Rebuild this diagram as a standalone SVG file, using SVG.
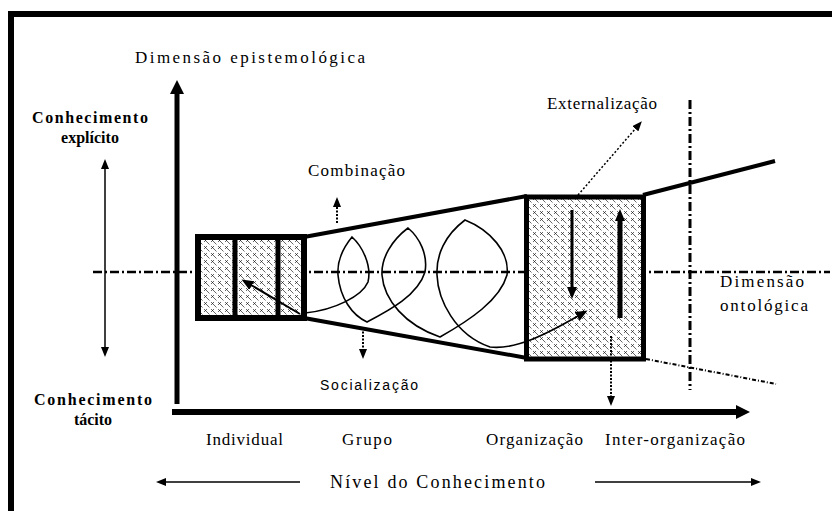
<svg xmlns="http://www.w3.org/2000/svg" width="832" height="511" viewBox="0 0 832 511">
<style>
.t{font-family:'Liberation Serif','DejaVu Serif','Times New Roman',serif;font-size:17px;fill:#000}
.b{font-weight:bold;font-size:16px}
.s{font-family:'Liberation Sans',Arial,sans-serif;font-size:14px;fill:#000}
.ln{stroke:#000;fill:none}
.dd{stroke:#000;fill:none;stroke-width:2.5;stroke-dasharray:9 3 2 3}
.dot{stroke:#000;fill:none;stroke-width:2;stroke-dasharray:2 1.5}
.box{fill:url(#hatch);stroke:#000;stroke-width:5}
</style>
<defs>
<pattern id="hatch" width="7" height="7" patternUnits="userSpaceOnUse">
<rect width="7" height="7" fill="#fff"/>
<path d="M1,1 L4,4 M4,1 L1,4 M4,4 L6.5,6.5" stroke="#000" stroke-width="0.6" fill="none"/>
</pattern>
<marker id="big" viewBox="0 0 14 14" markerWidth="14" markerHeight="14" refX="1" refY="7" orient="auto" markerUnits="userSpaceOnUse"><path d="M0,0 L14,7 L0,14 z"/></marker>
<marker id="sm" viewBox="0 0 10 8" markerWidth="10" markerHeight="8" refX="1" refY="4" orient="auto-start-reverse" markerUnits="userSpaceOnUse"><path d="M0,0 L10,4 L0,8 z"/></marker>
<marker id="md" viewBox="0 0 12 10" markerWidth="12" markerHeight="10" refX="1" refY="5" orient="auto" markerUnits="userSpaceOnUse"><path d="M0,0 L12,5 L0,10 z"/></marker>
</defs>
<rect width="832" height="511" fill="#fff"/>
<rect x="11" y="14" width="900" height="600" fill="none" stroke="#000" stroke-width="6"/>

<g id="guides">
<line class="dd" x1="93" y1="272" x2="830" y2="272"/>
<line class="dd" x1="690" y1="100" x2="690" y2="390" style="stroke-width:3"/>
</g>

<g id="left-box">
<rect class="box" x="198" y="237" width="106" height="81" style="stroke-width:6"/>
<line class="ln" x1="235" y1="237" x2="235" y2="318" stroke-width="5"/>
<line class="ln" x1="278" y1="237" x2="278" y2="318" stroke-width="5"/>
</g>

<g id="right-box">
<rect class="box" x="526.5" y="197" width="117" height="162"/>
</g>

<g id="connectors">
<line class="ln" x1="177" y1="404" x2="177" y2="93" stroke-width="5" marker-end="url(#big)"/>
<line class="ln" x1="172" y1="412" x2="737" y2="412" stroke-width="6" marker-end="url(#big)"/>
<line class="ln" x1="105" y1="168" x2="105" y2="348" stroke-width="1.5" marker-start="url(#sm)" marker-end="url(#sm)"/>
<line class="ln" x1="304" y1="237" x2="527" y2="196" stroke-width="4"/>
<line class="ln" x1="304" y1="318" x2="527" y2="358" stroke-width="4"/>
<line class="ln" x1="643" y1="195" x2="775" y2="161" stroke-width="4"/>
<line class="ln" x1="646" y1="359" x2="776" y2="384" stroke-width="2" stroke-dasharray="4 2 1 2"/>
<line class="ln" x1="300" y1="314" x2="251" y2="285" stroke-width="2" marker-end="url(#md)"/>
<path class="ln" stroke-width="1.6" d="M305,313 C335,310 362,296 368,282 C372,265 362,246 352,237 C343,248 337,262 338,275 C340,298 352,315 367,322 C390,310 418,295 425,272 C428,255 420,238 408,228 C392,240 381,258 382,275 C384,300 405,325 440,337 C470,320 500,300 507,275 C510,252 490,230 465,220 C445,235 436,255 437,275 C438,300 455,335 490,347 C515,350 545,335 578,316" marker-end="url(#md)"/>
<line class="ln" x1="572" y1="210" x2="572" y2="288" stroke-width="3" marker-end="url(#md)"/>
<line class="ln" x1="620" y1="318" x2="620" y2="220" stroke-width="5" marker-end="url(#md)"/>
<line class="dot" x1="337" y1="223" x2="337" y2="206" marker-end="url(#sm)"/>
<line class="dot" x1="363" y1="328" x2="363" y2="350" marker-end="url(#sm)"/>
<line class="dot" x1="611" y1="336" x2="611" y2="397" marker-end="url(#sm)"/>
<line class="ln" x1="578" y1="195" x2="636" y2="128" stroke-width="1.5" stroke-dasharray="2 2" marker-end="url(#sm)"/>
<line class="ln" x1="165" y1="482" x2="300" y2="482" stroke-width="1.5" marker-start="url(#sm)"/>
<line class="ln" x1="595" y1="482" x2="752" y2="482" stroke-width="1.5" marker-end="url(#sm)"/>
</g>

<g id="labels">
<text class="t" x="135" y="63" textLength="230" lengthAdjust="spacing">Dimensão epistemológica</text>
<text class="t b" x="32" y="123" textLength="116" lengthAdjust="spacing">Conhecimento</text>
<text class="t b" x="90" y="143" text-anchor="middle">explícito</text>
<text class="t b" x="34" y="405" textLength="118" lengthAdjust="spacing">Conhecimento</text>
<text class="t b" x="93" y="425" text-anchor="middle">tácito</text>
<text class="t" x="308" y="176" textLength="97" lengthAdjust="spacing">Combinação</text>
<text class="t" x="547" y="109" textLength="110" lengthAdjust="spacing">Externalização</text>
<text class="s" x="320" y="390" textLength="98" lengthAdjust="spacing">Socialização</text>
<text class="t" x="720" y="287" textLength="84" lengthAdjust="spacing">Dimensão</text>
<text class="t" x="720" y="311" textLength="88" lengthAdjust="spacing">ontológica</text>
<text class="t" x="206" y="445" textLength="77" lengthAdjust="spacing">Individual</text>
<text class="t" x="342" y="445" textLength="50" lengthAdjust="spacing">Grupo</text>
<text class="t" x="486" y="445" textLength="97" lengthAdjust="spacing">Organização</text>
<text class="t" x="605" y="445" textLength="140" lengthAdjust="spacing">Inter-organização</text>
<text class="t" x="330" y="488" textLength="215" lengthAdjust="spacing" style="font-size:18px">Nível do Conhecimento</text>
</g>
</svg>
